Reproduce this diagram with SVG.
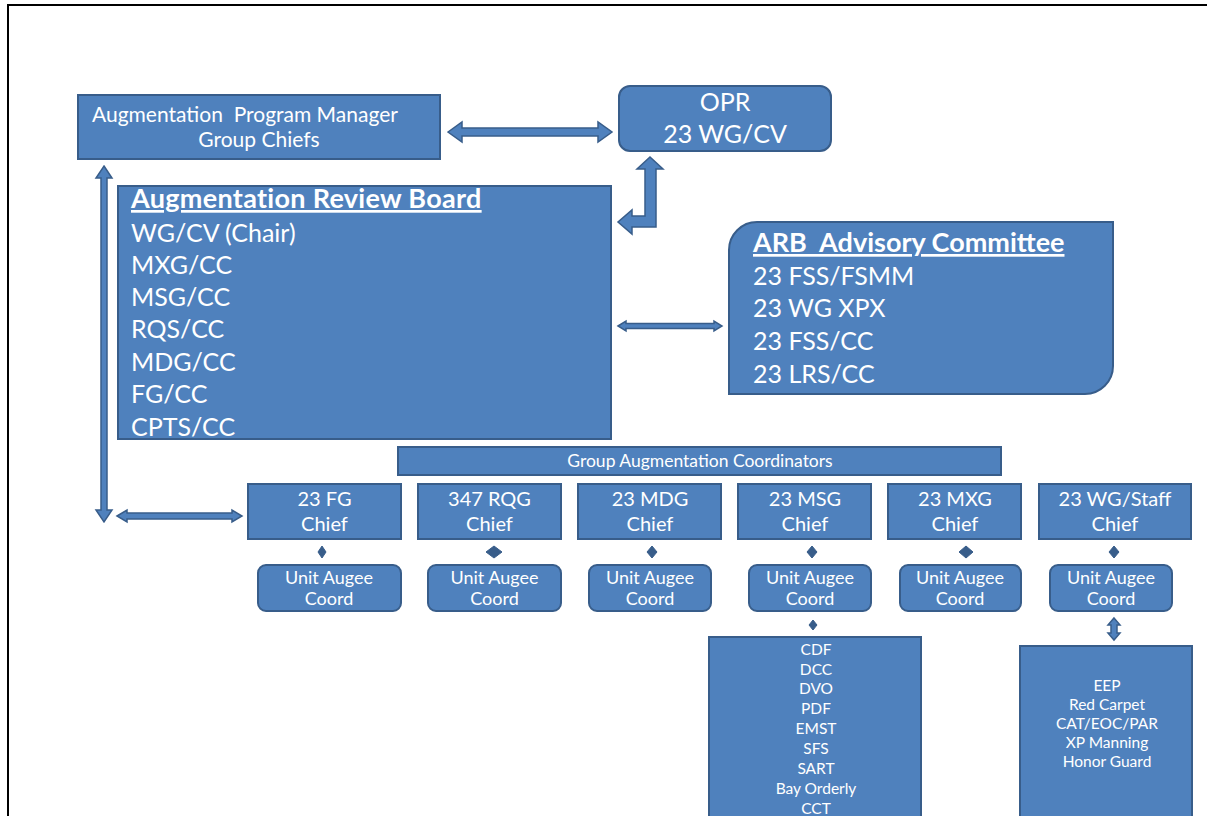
<svg xmlns="http://www.w3.org/2000/svg" width="1207" height="816" viewBox="0 0 1207 816">
<style>
.box{fill:#4F81BD;stroke:#385D8A;stroke-width:2}
.arr{fill:#4F81BD;stroke:#385D8A;stroke-width:1.5;stroke-linejoin:miter}
.dot{fill:#385D8A;stroke:#385D8A;stroke-width:1}
text{font-family:Lato,"Liberation Sans",sans-serif;fill:#FFFFFF}
.c{text-anchor:middle}
.big{font-size:25px}
.hd{font-size:27px;font-weight:bold;text-decoration:underline}
.ch{font-size:20px}
.un{font-size:18px}
.ls{font-size:15.5px}
</style>
<rect x="0" y="0" width="1207" height="816" fill="#FFFFFF"/>
<path d="M8,816 V5 H1207" fill="none" stroke="#000000" stroke-width="2"/>
<g id="connectors">
<polygon class="arr" points="448,132 462,122 462,128 598,128 598,122 612,132 598,142 598,136 462,136 462,142"/>
<polygon class="arr" points="650,157 663,169 656,169 656,227 632,227 632,234 618,222 632,210 632,216 645,216 645,169 637,169"/>
<polygon class="arr" points="618,326 626,321 626,323.5 714,323.5 714,321 722,326 714,331 714,328.5 626,328.5 626,331"/>
<polygon class="arr" points="104,166 112,178 107,178 107,510 112,510 104,522 96,510 101,510 101,178 96,178"/>
<polygon class="arr" points="117,516 127,510 127,513 232,513 232,510 242,516 232,522 232,519 127,519 127,522"/>
<polygon class="arr" points="1114,618 1120,625 1117,625 1117,633 1120,633 1114,640 1108,633 1111,633 1111,625 1108,625"/>
<polygon class="dot" points="322,546 326,552 322,558 318,552"/>
<polygon class="dot" points="494,546 502,552 494,558 486,552"/>
<polygon class="dot" points="652,546 657,552 652,558 647,552"/>
<polygon class="dot" points="812,546 817,552 812,558 807,552"/>
<polygon class="dot" points="966,546 973,552 966,558 959,552"/>
<polygon class="dot" points="1114,546 1119,552 1114,558 1109,552"/>
<polygon class="dot" points="813,620 817,625 813,630 809,625"/>
</g>
<g id="apm">
<rect class="box" x="78" y="95" width="362" height="64"/>
<text x="92" y="122" xml:space="preserve" style="font-size:21px">Augmentation  Program Manager</text>
<text class="c" x="259" y="147" style="font-size:21px">Group Chiefs</text>
</g>
<g id="opr">
<rect class="box" x="619" y="86" width="212" height="65" rx="11"/>
<text class="c big" x="725" y="111">OPR</text>
<text class="c big" x="725" y="143">23 WG/CV</text>
</g>
<g id="arb">
<rect class="box" x="118" y="186" width="493" height="253"/>
<text class="hd" x="131" y="208" style="letter-spacing:0.3px">Augmentation Review Board</text>
<text class="big" x="131" y="242">WG/CV (Chair)</text>
<text class="big" x="131" y="274">MXG/CC</text>
<text class="big" x="131" y="306">MSG/CC</text>
<text class="big" x="131" y="338">RQS/CC</text>
<text class="big" x="131" y="371">MDG/CC</text>
<text class="big" x="131" y="403">FG/CC</text>
<text class="big" x="131" y="436">CPTS/CC</text>
</g>
<g id="advisory">
<path class="box" d="M729,250 A28,28 0 0 1 757,222 H1113 V366 A28,28 0 0 1 1085,394 H729 Z"/>
<text class="hd" x="753" y="252" xml:space="preserve">ARB  Advisory Committee</text>
<text class="big" x="753" y="285">23 FSS/FSMM</text>
<text class="big" x="753" y="317">23 WG XPX</text>
<text class="big" x="753" y="350">23 FSS/CC</text>
<text class="big" x="753" y="383">23 LRS/CC</text>
</g>
<g id="gac">
<rect class="box" x="398" y="447" width="603" height="28"/>
<text class="c" x="700" y="467" style="font-size:17.5px">Group Augmentation Coordinators</text>
</g>
<g id="chief-fg">
<rect class="box" x="248" y="484" width="153" height="55"/>
<text class="c ch" x="324.5" y="506">23 FG</text>
<text class="c ch" x="324.5" y="531">Chief</text>
</g>
<g id="chief-rqg">
<rect class="box" x="418" y="484" width="143" height="55"/>
<text class="c ch" x="489.5" y="506">347 RQG</text>
<text class="c ch" x="489.5" y="531">Chief</text>
</g>
<g id="chief-mdg">
<rect class="box" x="578" y="484" width="143" height="55"/>
<text class="c ch" x="650" y="506">23 MDG</text>
<text class="c ch" x="650" y="531">Chief</text>
</g>
<g id="chief-msg">
<rect class="box" x="738" y="484" width="133" height="55"/>
<text class="c ch" x="805" y="506">23 MSG</text>
<text class="c ch" x="805" y="531">Chief</text>
</g>
<g id="chief-mxg">
<rect class="box" x="888" y="484" width="133" height="55"/>
<text class="c ch" x="955" y="506">23 MXG</text>
<text class="c ch" x="955" y="531">Chief</text>
</g>
<g id="chief-staff">
<rect class="box" x="1039" y="484" width="152" height="55"/>
<text class="c ch" x="1115" y="506">23 WG/Staff</text>
<text class="c ch" x="1115" y="531">Chief</text>
</g>
<g id="unit-fg">
<rect class="box" x="258" y="565" width="143" height="46" rx="8"/>
<text class="c un" x="329" y="584">Unit Augee</text>
<text class="c un" x="329" y="605">Coord</text>
</g>
<g id="unit-rqg">
<rect class="box" x="428" y="565" width="133" height="46" rx="8"/>
<text class="c un" x="494.5" y="584">Unit Augee</text>
<text class="c un" x="494.5" y="605">Coord</text>
</g>
<g id="unit-mdg">
<rect class="box" x="589" y="565" width="122" height="46" rx="8"/>
<text class="c un" x="650" y="584">Unit Augee</text>
<text class="c un" x="650" y="605">Coord</text>
</g>
<g id="unit-msg">
<rect class="box" x="749" y="565" width="122" height="46" rx="8"/>
<text class="c un" x="810" y="584">Unit Augee</text>
<text class="c un" x="810" y="605">Coord</text>
</g>
<g id="unit-mxg">
<rect class="box" x="900" y="565" width="121" height="46" rx="8"/>
<text class="c un" x="960" y="584">Unit Augee</text>
<text class="c un" x="960" y="605">Coord</text>
</g>
<g id="unit-staff">
<rect class="box" x="1050" y="565" width="122" height="46" rx="8"/>
<text class="c un" x="1111" y="584">Unit Augee</text>
<text class="c un" x="1111" y="605">Coord</text>
</g>
<g id="msg-list">
<rect class="box" x="709" y="637" width="212" height="190"/>
<text class="c ls" x="816" y="655">CDF</text>
<text class="c ls" x="816" y="675">DCC</text>
<text class="c ls" x="816" y="694">DVO</text>
<text class="c ls" x="816" y="714">PDF</text>
<text class="c ls" x="816" y="734">EMST</text>
<text class="c ls" x="816" y="754">SFS</text>
<text class="c ls" x="816" y="774">SART</text>
<text class="c ls" x="816" y="794">Bay Orderly</text>
<text class="c ls" x="816" y="814">CCT</text>
</g>
<g id="staff-list">
<rect class="box" x="1020" y="646" width="172" height="180"/>
<text class="c ls" x="1107" y="691">EEP</text>
<text class="c ls" x="1107" y="710">Red Carpet</text>
<text class="c ls" x="1107" y="729">CAT/EOC/PAR</text>
<text class="c ls" x="1107" y="748">XP Manning</text>
<text class="c ls" x="1107" y="767">Honor Guard</text>
</g>
</svg>
